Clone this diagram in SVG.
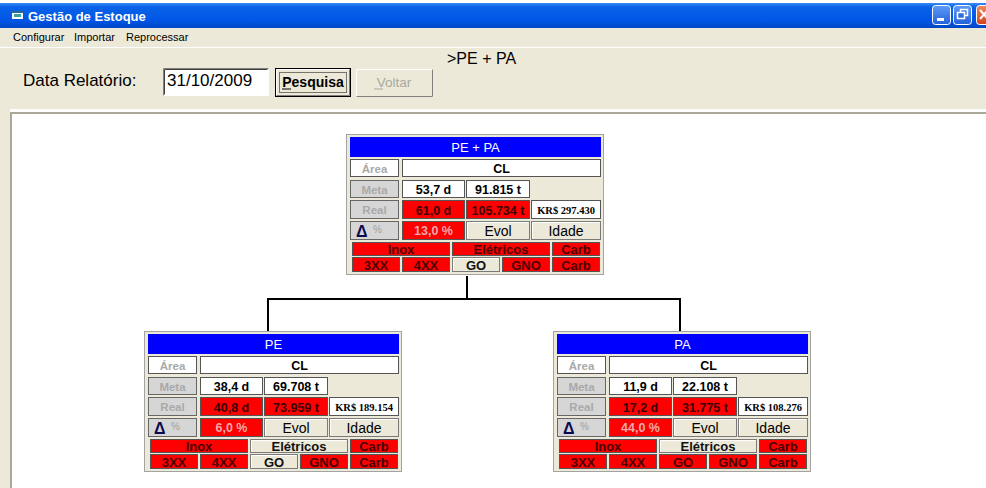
<svg xmlns="http://www.w3.org/2000/svg" width="986" height="488" viewBox="0 0 986 488">
  <defs>
    <linearGradient id="titleGrad" x1="0" y1="0" x2="0" y2="1">
      <stop offset="0" stop-color="#3a8cf6"/>
      <stop offset="0.15" stop-color="#0a63e8"/>
      <stop offset="0.7" stop-color="#0055e5"/>
      <stop offset="1" stop-color="#0046c6"/>
    </linearGradient>
    <linearGradient id="ctlGrad" x1="0" y1="0" x2="0" y2="1">
      <stop offset="0" stop-color="#5f9bf7"/>
      <stop offset="1" stop-color="#2361d9"/>
    </linearGradient>
    <linearGradient id="closeGrad" x1="0" y1="0" x2="0" y2="1">
      <stop offset="0" stop-color="#f08a60"/>
      <stop offset="1" stop-color="#d2411a"/>
    </linearGradient>
  </defs>
  <style>
    text { font-family: "Liberation Sans", Arial, sans-serif; }
    .menu { font-size: 11px; fill: #000; }
    .cw { fill: #ffffff; stroke: #555555; stroke-width: 1; }
    .cr { fill: #ff0000; stroke: #555555; stroke-width: 1; }
    .cg { fill: #d6d6d6; stroke: #666666; stroke-width: 1; }
    .btn { fill: #ece9d8; stroke: #7a7a7a; stroke-width: 1; }
    .hi { fill: none; stroke: #ffffff; stroke-width: 1; }
    .panel { fill: #ece9d8; stroke: #a3a3a3; stroke-width: 1; }
    .head { fill: #0000ff; }
    .ht { font-size: 13px; fill: #ffffff; text-anchor: middle; }
    .lbl { font-size: 11.5px; font-weight: bold; fill: #a9a9a9; text-anchor: middle; }
    .val { font-size: 12.5px; font-weight: bold; fill: #000000; text-anchor: middle; }
    .vr { fill: #3c0000; }
    .pct { fill: #eeaaaa; }
    .kr { font-family: "Liberation Serif", "Times New Roman", serif; font-size: 10.5px; font-weight: bold; fill: #000; text-anchor: middle; }
    .bt { font-size: 14px; fill: #000; text-anchor: middle; }
    .sm { font-size: 13px; font-weight: bold; fill: #111; text-anchor: middle; }
    .sr { fill: #4a0000; }
    .delta { font-size: 16px; font-weight: bold; fill: #0a0a50; }
    .pc { font-size: 10px; fill: #a0a0a0; }
    .conn { fill: none; stroke: #000000; stroke-width: 2; }
  </style>

  <!-- window background -->
  <rect x="0" y="0" width="986" height="488" fill="#ece9d8"/>
  <rect x="0" y="0" width="986" height="3" fill="#ffffff"/>

  <!-- title bar -->
  <g id="titlebar">
    <rect x="0" y="3" width="986" height="25" fill="url(#titleGrad)"/>
    <rect x="12" y="11" width="11" height="8" fill="#ffffff"/>
    <rect x="12" y="11" width="11" height="2" fill="#2a6a8a"/>
    <rect x="14" y="14" width="7" height="3" fill="#3aa0a0"/>
    <text x="28" y="21" font-size="13" font-weight="bold" fill="#ffffff">Gestão de Estoque</text>
    <rect x="932.5" y="5.5" width="18" height="19" rx="3" fill="url(#ctlGrad)" stroke="#ffffff"/>
    <rect x="937" y="18" width="7" height="3" fill="#ffffff"/>
    <rect x="953.5" y="5.5" width="18" height="19" rx="3" fill="url(#ctlGrad)" stroke="#ffffff"/>
    <rect x="960.5" y="9.5" width="7" height="6" fill="none" stroke="#ffffff" stroke-width="1.5"/>
    <rect x="957.5" y="12.5" width="7" height="6" fill="#2f6de0" stroke="#ffffff" stroke-width="1.5"/>
    <rect x="976.5" y="5.5" width="18" height="19" rx="3" fill="url(#closeGrad)" stroke="#ffffff"/>
    <path d="M980 10 L988 19 M988 10 L980 19" stroke="#ffffff" stroke-width="2"/>
  </g>

  <!-- menu bar -->
  <g id="menubar">
    <text class="menu" x="13" y="41">Configurar</text>
    <text class="menu" x="74" y="41">Importar</text>
    <text class="menu" x="126" y="41">Reprocessar</text>
    <line x1="0" y1="47.5" x2="986" y2="47.5" stroke="#ffffff"/>
  </g>

  <!-- search toolbar -->
  <g id="toolbar">
    <text x="23" y="86" font-size="17" fill="#000">Data Relatório:</text>
    <rect x="163.5" y="68.5" width="105" height="27" fill="#ffffff" stroke="#ffffff"/>
    <path d="M163.5 95.5 V68.5 H268.5" fill="none" stroke="#808080"/>
    <path d="M164.5 94.5 V69.5 H267.5" fill="none" stroke="#404040"/>
    <text x="167" y="86" font-size="17" fill="#000">31/10/2009</text>

    <rect x="275.5" y="68.5" width="75" height="28" fill="#ece9d8" stroke="#000000"/>
    <path d="M276.5 95.5 V69.5 H349.5" fill="none" stroke="#ffffff"/>
    <path d="M349.5 69.5 V95.5 H276.5" fill="none" stroke="#808080"/>
    <rect x="279.5" y="72.5" width="67" height="20" fill="none" stroke="#000" stroke-dasharray="1 1"/>
    <text x="313" y="87" font-size="14" font-weight="bold" fill="#000" text-anchor="middle">Pesquisa</text>
    <line x1="282" y1="89" x2="291" y2="89" stroke="#000"/>

    <rect x="356.5" y="69.5" width="76" height="27" fill="#ece9d8" stroke="#ffffff"/>
    <path d="M432.5 69.5 V96.5 H356.5" fill="none" stroke="#808080"/>
    <text x="394" y="87" font-size="13.5" fill="#a8a8a0" text-anchor="middle">Voltar</text>
    <line x1="374" y1="89" x2="383" y2="89" stroke="#a8a8a0"/>

    <text x="447" y="64" font-size="16" fill="#000">&gt;PE + PA</text>
  </g>

  <!-- chart area -->
  <rect x="10" y="109" width="976" height="3" fill="#ffffff"/>
  <rect x="10" y="112" width="976" height="2" fill="#aca899"/>
  <rect x="10" y="112" width="2" height="376" fill="#aca899"/>
  <rect x="12" y="114" width="974" height="374" fill="#ffffff"/>

  <!-- connectors -->
  <g id="connectors">
    <path class="conn" d="M467 276 V299"/>
    <path class="conn" d="M267 299 H681"/>
    <path class="conn" d="M268 298 V332"/>
    <path class="conn" d="M680 298 V332"/>
  </g>

  <!-- node: PE + PA -->
  <g id="node-pe-pa" transform="translate(350,137)">
    <rect class="panel" x="-3.5" y="-2.5" width="257" height="140"/>
    <rect class="head" x="0" y="0" width="251" height="20"/>
    <text class="ht" x="125.5" y="15">PE + PA</text>
    <rect class="cw" x="0.5" y="22.5" width="48" height="17"/>
    <text class="lbl" x="24.5" y="35.5">Área</text>
    <rect class="cw" x="52.5" y="22.5" width="198" height="17"/>
    <text class="val" x="151.5" y="35.5" font-size="12">CL</text>
    <rect class="cg" x="0.5" y="43.5" width="48" height="17"/>
    <text class="lbl" x="24.5" y="56.5">Meta</text>
    <rect class="cw" x="52.5" y="43.5" width="62" height="17"/>
    <text class="val" x="83.5" y="57">53,7 d</text>
    <rect class="cw" x="116.5" y="43.5" width="63" height="17"/>
    <text class="val" x="148" y="57">91.815 t</text>
    <rect class="cg" x="0.5" y="63.5" width="48" height="18"/>
    <text class="lbl" x="24.5" y="77">Real</text>
    <rect class="cr" x="52.5" y="63.5" width="62" height="18"/>
    <text class="val vr" x="83.5" y="77.5">61,0 d</text>
    <rect class="cr" x="116.5" y="63.5" width="63" height="18"/>
    <text class="val vr" x="148" y="77.5">105.734 t</text>
    <rect class="cw" x="181.5" y="63.5" width="69" height="18"/>
    <text class="kr" x="216" y="76.5">KR$ 297.430</text>
    <rect class="cg" x="0.5" y="84.5" width="48" height="18"/>
    <text class="delta" x="6" y="100">Δ</text>
    <text class="pc" x="23" y="96">%</text>
    <rect class="cr" x="52.5" y="84.5" width="62" height="18"/>
    <text class="val pct" x="83.5" y="98">13,0 %</text>
    <rect class="btn" x="116.5" y="84.5" width="63" height="18"/>
    <path class="hi" d="M117.5 101.5 V85.5 H178.5"/>
    <text class="bt" x="148" y="99">Evol</text>
    <rect class="btn" x="181.5" y="84.5" width="69" height="18"/>
    <path class="hi" d="M182.5 101.5 V85.5 H249.5"/>
    <text class="bt" x="216" y="99">Idade</text>
    <rect class="cr" x="2.5" y="105.5" width="97" height="13"/>
    <text class="sm sr" x="51" y="117">Inox</text>
    <rect class="cr" x="102.5" y="105.5" width="97" height="13"/>
    <text class="sm sr" x="151" y="117">Elétricos</text>
    <rect class="cr" x="202.5" y="105.5" width="47" height="13"/>
    <text class="sm sr" x="226" y="117">Carb</text>
    <rect class="cr" x="2.5" y="120.5" width="47" height="14"/>
    <text class="sm sr" x="26" y="132.5">3XX</text>
    <rect class="cr" x="52.5" y="120.5" width="47" height="14"/>
    <text class="sm sr" x="76" y="132.5">4XX</text>
    <rect class="btn" x="102.5" y="120.5" width="47" height="14"/>
    <path class="hi" d="M103.5 133.5 V121.5 H148.5"/>
    <text class="sm" x="126" y="132.5">GO</text>
    <rect class="cr" x="152.5" y="120.5" width="47" height="14"/>
    <text class="sm sr" x="176" y="132.5">GNO</text>
    <rect class="cr" x="202.5" y="120.5" width="47" height="14"/>
    <text class="sm sr" x="226" y="132.5">Carb</text>
  </g>

  <!-- node: PE -->
  <g id="node-pe" transform="translate(148,334)">
    <rect class="panel" x="-3.5" y="-2.5" width="257" height="140"/>
    <rect class="head" x="0" y="0" width="251" height="20"/>
    <text class="ht" x="125.5" y="15">PE</text>
    <rect class="cw" x="0.5" y="22.5" width="48" height="17"/>
    <text class="lbl" x="24.5" y="35.5">Área</text>
    <rect class="cw" x="52.5" y="22.5" width="198" height="17"/>
    <text class="val" x="151.5" y="35.5" font-size="12">CL</text>
    <rect class="cg" x="0.5" y="43.5" width="48" height="17"/>
    <text class="lbl" x="24.5" y="56.5">Meta</text>
    <rect class="cw" x="52.5" y="43.5" width="62" height="17"/>
    <text class="val" x="83.5" y="57">38,4 d</text>
    <rect class="cw" x="116.5" y="43.5" width="63" height="17"/>
    <text class="val" x="148" y="57">69.708 t</text>
    <rect class="cg" x="0.5" y="63.5" width="48" height="18"/>
    <text class="lbl" x="24.5" y="77">Real</text>
    <rect class="cr" x="52.5" y="63.5" width="62" height="18"/>
    <text class="val vr" x="83.5" y="77.5">40,8 d</text>
    <rect class="cr" x="116.5" y="63.5" width="63" height="18"/>
    <text class="val vr" x="148" y="77.5">73.959 t</text>
    <rect class="cw" x="181.5" y="63.5" width="69" height="18"/>
    <text class="kr" x="216" y="76.5">KR$ 189.154</text>
    <rect class="cg" x="0.5" y="84.5" width="48" height="18"/>
    <text class="delta" x="6" y="100">Δ</text>
    <text class="pc" x="23" y="96">%</text>
    <rect class="cr" x="52.5" y="84.5" width="62" height="18"/>
    <text class="val pct" x="83.5" y="98">6,0 %</text>
    <rect class="btn" x="116.5" y="84.5" width="63" height="18"/>
    <path class="hi" d="M117.5 101.5 V85.5 H178.5"/>
    <text class="bt" x="148" y="99">Evol</text>
    <rect class="btn" x="181.5" y="84.5" width="69" height="18"/>
    <path class="hi" d="M182.5 101.5 V85.5 H249.5"/>
    <text class="bt" x="216" y="99">Idade</text>
    <rect class="cr" x="2.5" y="105.5" width="97" height="13"/>
    <text class="sm sr" x="51" y="117">Inox</text>
    <rect class="btn" x="102.5" y="105.5" width="97" height="13"/>
    <path class="hi" d="M103.5 117.5 V106.5 H198.5"/>
    <text class="sm" x="151" y="117">Elétricos</text>
    <rect class="cr" x="202.5" y="105.5" width="47" height="13"/>
    <text class="sm sr" x="226" y="117">Carb</text>
    <rect class="cr" x="2.5" y="120.5" width="47" height="14"/>
    <text class="sm sr" x="26" y="132.5">3XX</text>
    <rect class="cr" x="52.5" y="120.5" width="47" height="14"/>
    <text class="sm sr" x="76" y="132.5">4XX</text>
    <rect class="btn" x="102.5" y="120.5" width="47" height="14"/>
    <path class="hi" d="M103.5 133.5 V121.5 H148.5"/>
    <text class="sm" x="126" y="132.5">GO</text>
    <rect class="cr" x="152.5" y="120.5" width="47" height="14"/>
    <text class="sm sr" x="176" y="132.5">GNO</text>
    <rect class="cr" x="202.5" y="120.5" width="47" height="14"/>
    <text class="sm sr" x="226" y="132.5">Carb</text>
  </g>

  <!-- node: PA -->
  <g id="node-pa" transform="translate(557,334)">
    <rect class="panel" x="-3.5" y="-2.5" width="257" height="140"/>
    <rect class="head" x="0" y="0" width="251" height="20"/>
    <text class="ht" x="125.5" y="15">PA</text>
    <rect class="cw" x="0.5" y="22.5" width="48" height="17"/>
    <text class="lbl" x="24.5" y="35.5">Área</text>
    <rect class="cw" x="52.5" y="22.5" width="198" height="17"/>
    <text class="val" x="151.5" y="35.5" font-size="12">CL</text>
    <rect class="cg" x="0.5" y="43.5" width="48" height="17"/>
    <text class="lbl" x="24.5" y="56.5">Meta</text>
    <rect class="cw" x="52.5" y="43.5" width="62" height="17"/>
    <text class="val" x="83.5" y="57">11,9 d</text>
    <rect class="cw" x="116.5" y="43.5" width="63" height="17"/>
    <text class="val" x="148" y="57">22.108 t</text>
    <rect class="cg" x="0.5" y="63.5" width="48" height="18"/>
    <text class="lbl" x="24.5" y="77">Real</text>
    <rect class="cr" x="52.5" y="63.5" width="62" height="18"/>
    <text class="val vr" x="83.5" y="77.5">17,2 d</text>
    <rect class="cr" x="116.5" y="63.5" width="63" height="18"/>
    <text class="val vr" x="148" y="77.5">31.775 t</text>
    <rect class="cw" x="181.5" y="63.5" width="69" height="18"/>
    <text class="kr" x="216" y="76.5">KR$ 108.276</text>
    <rect class="cg" x="0.5" y="84.5" width="48" height="18"/>
    <text class="delta" x="6" y="100">Δ</text>
    <text class="pc" x="23" y="96">%</text>
    <rect class="cr" x="52.5" y="84.5" width="62" height="18"/>
    <text class="val pct" x="83.5" y="98">44,0 %</text>
    <rect class="btn" x="116.5" y="84.5" width="63" height="18"/>
    <path class="hi" d="M117.5 101.5 V85.5 H178.5"/>
    <text class="bt" x="148" y="99">Evol</text>
    <rect class="btn" x="181.5" y="84.5" width="69" height="18"/>
    <path class="hi" d="M182.5 101.5 V85.5 H249.5"/>
    <text class="bt" x="216" y="99">Idade</text>
    <rect class="cr" x="2.5" y="105.5" width="97" height="13"/>
    <text class="sm sr" x="51" y="117">Inox</text>
    <rect class="btn" x="102.5" y="105.5" width="97" height="13"/>
    <path class="hi" d="M103.5 117.5 V106.5 H198.5"/>
    <text class="sm" x="151" y="117">Elétricos</text>
    <rect class="cr" x="202.5" y="105.5" width="47" height="13"/>
    <text class="sm sr" x="226" y="117">Carb</text>
    <rect class="cr" x="2.5" y="120.5" width="47" height="14"/>
    <text class="sm sr" x="26" y="132.5">3XX</text>
    <rect class="cr" x="52.5" y="120.5" width="47" height="14"/>
    <text class="sm sr" x="76" y="132.5">4XX</text>
    <rect class="cr" x="102.5" y="120.5" width="47" height="14"/>
    <text class="sm sr" x="126" y="132.5">GO</text>
    <rect class="cr" x="152.5" y="120.5" width="47" height="14"/>
    <text class="sm sr" x="176" y="132.5">GNO</text>
    <rect class="cr" x="202.5" y="120.5" width="47" height="14"/>
    <text class="sm sr" x="226" y="132.5">Carb</text>
  </g>
</svg>
